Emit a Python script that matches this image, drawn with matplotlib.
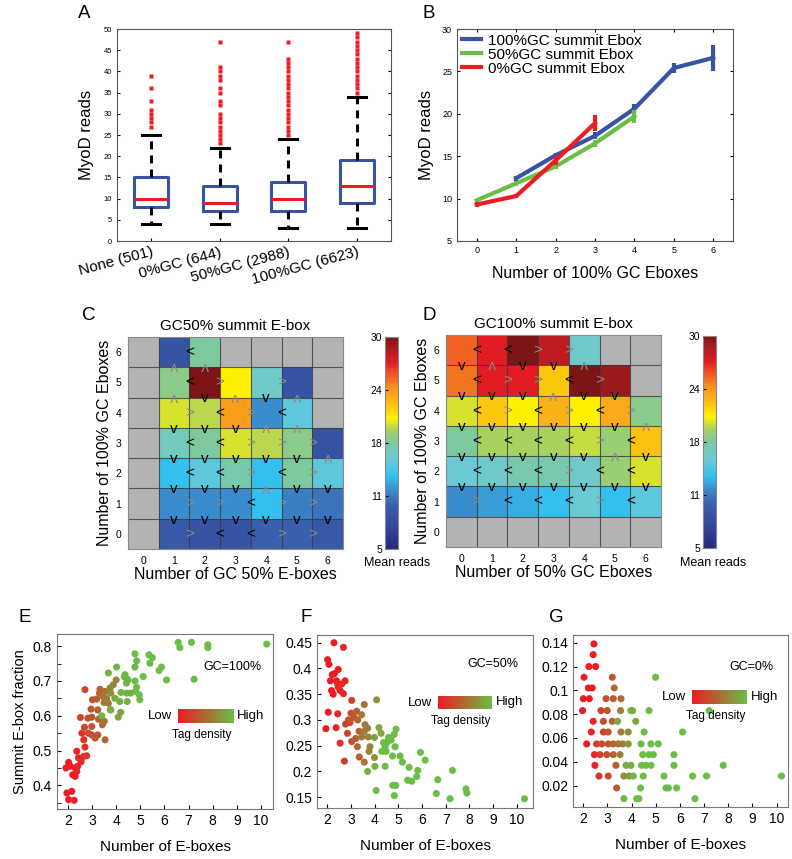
import numpy as np
import matplotlib.pyplot as plt
from matplotlib.colors import LinearSegmentedColormap

plt.rcParams['font.family'] = ['Liberation Sans', 'DejaVu Sans']

# ---------------- data ----------------
# A: MyoD reads by summit E-box class (box summaries)
box_labels = ['None (501)', '0%GC (644)', '50%GC (2988)', '100%GC (6623)']
box_whislo = [4, 4, 3, 3]
box_q1 = [8, 7, 7, 9]
box_med = [10, 9, 10, 13]
box_q3 = [15, 13, 14, 19]
box_whishi = [25, 22, 24, 34]
box_fliers = [
    [27, 28, 29, 30, 31, 33, 36, 39],
    [23, 24, 25, 26, 27, 28, 29, 30, 32, 33, 35, 36, 38, 39, 40, 41, 47],
    [25, 26, 27, 28, 29, 30, 31, 32, 33, 34, 35, 36, 37, 38, 39, 40, 41, 42, 43, 47],
    [35, 36, 37, 38, 39, 40, 41, 42, 43, 44, 45, 46, 47, 48, 49],
]

# B: mean reads vs number of 100% GC E-boxes
gc100_x = [1, 2, 3, 4, 5, 6]
gc100_y = [12.4, 15.1, 17.4, 20.6, 25.4, 26.6]
gc100_err = [0.3, 0.3, 0.4, 0.5, 0.6, 1.5]
gc50_x = [0, 1, 2, 3, 4]
gc50_y = [9.8, 11.8, 13.8, 16.5, 19.7]
gc50_err = [0.2, 0.3, 0.3, 0.4, 0.8]
gc0_x = [0, 1, 2, 3]
gc0_y = [9.3, 10.3, 14.5, 18.9]
gc0_err = [0.3, 0.2, 0.5, 0.9]

nan = np.nan
# C / D: mean reads, rows listed from 6 (top) down to 0
c_vals = [
    [nan, 9.0, 17.5, nan, nan, nan, nan],
    [nan, 18.0, 30.0, 20.5, 16.0, 9.0, nan],
    [nan, 19.8, 19.3, 23.5, 12.0, 15.0, nan],
    [nan, 16.5, 17.5, 19.8, 19.3, 18.0, 9.0],
    [nan, 13.5, 15.0, 17.0, 13.5, 17.5, 15.0],
    [nan, 12.0, 12.0, 12.0, 13.5, 11.5, 11.0],
    [nan, 9.5, 9.0, 9.0, 10.0, 10.0, 9.5],
]
d_vals = [
    [25.3, 27.0, 30.0, 28.0, 16.0, nan, nan],
    [24.8, 27.0, 27.0, 21.8, 30.0, 29.0, nan],
    [19.8, 21.8, 20.5, 22.5, 20.5, 23.0, 18.0],
    [17.5, 19.0, 19.0, 19.0, 19.5, 18.5, 22.0],
    [15.5, 16.0, 17.0, 17.0, 16.0, 18.5, 19.8],
    [12.0, 12.5, 13.0, 13.5, 15.5, 13.5, 15.0],
    [nan, nan, nan, nan, nan, nan, nan],
]
# comparison arrows: rows 6..0, boundaries x=0.5..5.5
c_harrows = ['.<....', '.<>.>.', '.><><.', '.<<>>>', '.<<><>', '.>><>>', '.><<>>']
# boundaries y=5.5..0.5, columns 0..6
c_varrows = ['.^^....', '.^v^v^.', '.vvv^^.', '.vvvvv^', '.vvv^vv', '.vvvvvv']
d_harrows = ['<<>>..', '<>><>.', '<><><>', '<<<<><', '<<<><<', '><<<><', '......']
d_varrows = ['v^vv^..', 'vvv^vv.', 'vvvvvv^', 'vvvvv^v', 'vvvvvvv', '.......']

cbar_ticks = [5, 11.25, 17.5, 23.75, 30]
cbar_labels = ['5', '11', '18', '24', '30']

# E/F/G: (number of E-boxes, summit E-box fraction, tag density 0..1)
e_points = [
    (1.96, 0.378, 0.0), (2.16, 0.383, 0.0), (2.03, 0.359, 0.0), (2.26, 0.357, 0.0),
    (1.92, 0.450, 0.0), (2.03, 0.466, 0.0), (2.10, 0.455, 0.0), (2.20, 0.430, 0.0),
    (2.30, 0.426, 0.0), (2.37, 0.440, 0.05), (2.30, 0.450, 0.05), (2.41, 0.455, 0.05),
    (2.37, 0.498, 0.05), (2.44, 0.479, 0.05), (2.55, 0.468, 0.1), (2.65, 0.483, 0.1),
    (2.78, 0.485, 0.15), (2.71, 0.510, 0.15), (2.66, 0.531, 0.15), (2.58, 0.550, 0.15),
    (2.69, 0.567, 0.25), (2.85, 0.550, 0.3), (2.99, 0.545, 0.3), (2.52, 0.595, 0.25),
    (2.83, 0.593, 0.3), (2.71, 0.675, 0.3), (2.99, 0.569, 0.35), (3.13, 0.536, 0.35),
    (3.24, 0.545, 0.35), (2.96, 0.619, 0.35), (2.99, 0.596, 0.35), (3.02, 0.646, 0.35),
    (3.20, 0.648, 0.4), (3.24, 0.617, 0.4), (3.27, 0.590, 0.45), (3.33, 0.676, 0.4),
    (3.31, 0.665, 0.45), (3.43, 0.574, 0.5), (3.54, 0.531, 0.45), (3.51, 0.584, 0.55),
    (3.47, 0.655, 0.55), (3.54, 0.670, 0.55), (3.60, 0.650, 0.6), (3.50, 0.638, 0.6),
    (3.68, 0.636, 0.6), (3.76, 0.617, 0.65), (3.75, 0.680, 0.65), (3.88, 0.689, 0.65),
    (4.00, 0.703, 0.65), (3.78, 0.665, 0.7), (3.40, 0.600, 0.95), (4.02, 0.740, 0.95),
    (3.68, 0.723, 0.9), (4.37, 0.718, 0.95), (4.46, 0.705, 0.95), (4.78, 0.700, 1.0),
    (4.85, 0.682, 1.0), (4.81, 0.670, 1.0), (4.96, 0.660, 1.0), (4.98, 0.646, 1.0),
    (5.12, 0.713, 1.0), (4.43, 0.665, 0.95), (4.20, 0.667, 0.95), (4.60, 0.665, 0.95),
    (3.95, 0.650, 0.9), (4.15, 0.641, 0.9), (4.46, 0.641, 0.95), (4.19, 0.610, 0.85),
    (4.09, 0.596, 0.85), (3.78, 0.617, 0.9), (4.78, 0.778, 1.0), (4.85, 0.758, 1.0),
    (4.78, 0.740, 1.0), (5.36, 0.775, 1.0), (5.50, 0.767, 1.0), (5.40, 0.751, 1.0),
    (5.88, 0.740, 1.0), (5.78, 0.730, 1.0), (6.09, 0.703, 1.0), (6.57, 0.811, 1.0),
    (6.64, 0.796, 1.0), (7.12, 0.811, 1.0), (7.23, 0.705, 1.0), (7.80, 0.804, 1.0),
    (7.80, 0.796, 1.0), (10.24, 0.806, 1.0), (4.34, 0.712, 0.95), (4.49, 0.703, 0.95),
    (4.43, 0.694, 0.95),
]
f_points = [
    (2.28, 0.450, 0.0), (2.68, 0.441, 0.05), (2.01, 0.417, 0.0), (2.07, 0.408, 0.0),
    (2.30, 0.390, 0.0), (2.21, 0.388, 0.0), (2.46, 0.398, 0.0), (2.13, 0.376, 0.0),
    (2.39, 0.376, 0.0), (2.44, 0.370, 0.05), (2.75, 0.376, 0.05), (2.61, 0.370, 0.05),
    (2.18, 0.357, 0.0), (2.25, 0.350, 0.0), (2.54, 0.357, 0.05), (2.68, 0.351, 0.05),
    (2.46, 0.364, 0.05), (2.04, 0.315, 0.0), (2.44, 0.312, 0.05), (1.94, 0.283, 0.0),
    (2.37, 0.285, 0.05), (2.54, 0.255, 0.1), (3.03, 0.338, 0.25), (3.00, 0.313, 0.3),
    (2.89, 0.300, 0.3), (2.77, 0.292, 0.25), (2.96, 0.295, 0.3), (2.85, 0.274, 0.25),
    (3.03, 0.258, 0.3), (2.72, 0.220, 0.2), (3.24, 0.317, 0.4), (3.14, 0.305, 0.4),
    (3.28, 0.300, 0.45), (3.34, 0.278, 0.45), (3.20, 0.264, 0.4), (3.27, 0.248, 0.45),
    (3.35, 0.228, 0.45), (3.56, 0.330, 0.55), (3.45, 0.310, 0.55), (3.59, 0.291, 0.6),
    (3.70, 0.284, 0.6), (3.56, 0.278, 0.6), (3.73, 0.267, 0.65), (3.45, 0.267, 0.6),
    (3.80, 0.248, 0.65), (3.56, 0.218, 0.55), (3.76, 0.239, 0.65), (3.99, 0.227, 0.7),
    (4.08, 0.339, 0.7), (3.99, 0.266, 0.8), (4.18, 0.285, 0.85), (4.27, 0.274, 0.85),
    (4.90, 0.282, 1.0), (4.82, 0.272, 1.0), (4.58, 0.266, 1.0), (4.51, 0.256, 1.0),
    (4.37, 0.256, 1.0), (4.44, 0.248, 1.0), (4.30, 0.239, 1.0), (4.48, 0.239, 1.0),
    (4.86, 0.248, 1.0), (4.69, 0.261, 1.0), (4.75, 0.230, 1.0), (5.07, 0.230, 1.0),
    (5.17, 0.218, 1.0), (5.93, 0.237, 1.0), (6.13, 0.222, 1.0), (4.01, 0.210, 0.95),
    (4.44, 0.210, 1.0), (3.70, 0.200, 0.95), (5.45, 0.208, 1.0), (5.82, 0.202, 1.0),
    (5.77, 0.190, 1.0), (5.39, 0.183, 1.0), (5.56, 0.181, 1.0), (4.76, 0.173, 1.0),
    (4.89, 0.173, 1.0), (4.06, 0.163, 1.0), (4.83, 0.153, 1.0), (6.60, 0.157, 1.0),
    (6.66, 0.184, 1.0), (7.18, 0.147, 1.0), (7.28, 0.202, 1.0), (7.85, 0.166, 1.0),
    (7.89, 0.158, 1.0), (10.32, 0.147, 1.0),
]
g_points = [
    (2.44, 0.139, 0.0), (2.41, 0.130, 0.0), (2.23, 0.120, 0.0), (2.51, 0.120, 0.0),
    (2.03, 0.111, 0.0), (3.20, 0.111, 0.4), (4.99, 0.111, 1.0), (2.21, 0.102, 0.0),
    (2.37, 0.102, 0.0), (3.28, 0.102, 0.5), (2.00, 0.093, 0.0), (2.25, 0.093, 0.0),
    (2.94, 0.093, 0.35), (3.24, 0.093, 0.4), (3.56, 0.093, 0.5),
    (1.97, 0.083, 0.0), (2.73, 0.083, 0.25), (2.99, 0.083, 0.35), (3.54, 0.083, 0.6),
    (3.97, 0.083, 0.95), (4.04, 0.083, 0.95), (4.72, 0.083, 1.0), (7.21, 0.083, 1.0),
    (2.41, 0.074, 0.05), (2.83, 0.074, 0.3), (3.20, 0.074, 0.4), (3.42, 0.074, 0.85),
    (4.17, 0.074, 0.85),
    (2.33, 0.065, 0.05), (2.83, 0.065, 0.25), (3.03, 0.065, 0.35), (3.56, 0.065, 0.6),
    (3.86, 0.065, 0.7), (4.52, 0.065, 1.0), (6.11, 0.065, 1.0),
    (2.14, 0.055, 0.0), (2.55, 0.055, 0.2), (2.76, 0.055, 0.3), (3.03, 0.055, 0.35),
    (3.24, 0.055, 0.45), (3.45, 0.055, 0.55), (3.63, 0.055, 0.6), (3.86, 0.055, 0.75),
    (4.39, 0.055, 1.0), (4.80, 0.055, 1.0), (5.10, 0.055, 1.0),
    (2.46, 0.046, 0.05), (2.69, 0.046, 0.25), (2.97, 0.046, 0.3), (3.24, 0.046, 0.45),
    (3.52, 0.046, 0.6), (4.46, 0.046, 1.0), (4.72, 0.046, 1.0), (4.90, 0.046, 1.0),
    (5.75, 0.046, 1.0),
    (2.48, 0.037, 0.05), (3.35, 0.037, 0.4), (3.77, 0.037, 0.9), (3.97, 0.037, 0.9),
    (4.41, 0.037, 1.0), (4.59, 0.037, 1.0), (4.80, 0.037, 1.0), (5.75, 0.037, 1.0),
    (7.79, 0.037, 1.0),
    (2.65, 0.028, 0.15), (3.03, 0.028, 0.3), (3.68, 0.028, 0.7), (3.90, 0.028, 0.75),
    (4.07, 0.028, 0.95), (4.48, 0.028, 1.0), (5.34, 0.028, 1.0), (6.52, 0.028, 1.0),
    (7.10, 0.028, 1.0), (10.20, 0.028, 1.0),
    (3.38, 0.018, 0.35), (4.37, 0.018, 1.0), (5.42, 0.018, 1.0), (5.52, 0.018, 1.0),
    (5.86, 0.018, 1.0),
    (3.68, 0.009, 0.95), (4.21, 0.009, 1.0), (4.30, 0.009, 1.0), (6.62, 0.009, 1.0),
]

# ---------------- layout helpers ----------------
W, H = 792, 859
fig = plt.figure(figsize=(W / 100, H / 100), dpi=100)


def rect(l, t, r, b):
    return [l / W, 1 - b / H, (r - l) / W, (b - t) / H]


def ftext(x, y, s, **kw):
    fig.text(x / W, 1 - y / H, s, **kw)


blue, green, red = '#3953a4', '#6abd45', '#ed1c24'

# ---------------- A ----------------
ax = fig.add_axes(rect(117, 29, 391, 241))
stats = []
for i in range(4):
    stats.append(dict(whislo=box_whislo[i], q1=box_q1[i], med=box_med[i],
                      q3=box_q3[i], whishi=box_whishi[i], fliers=box_fliers[i]))
ax.bxp(stats, positions=[1, 2, 3, 4], widths=0.5, capwidths=0.27,
       boxprops=dict(color=blue, lw=2.2),
       medianprops=dict(color=red, lw=2.2),
       whiskerprops=dict(color='k', lw=2.2, linestyle=(0, (2.6, 2))),
       capprops=dict(color='k', lw=2.2),
       flierprops=dict(marker='s', markersize=2.6, markerfacecolor=red,
                       markeredgecolor='none'))
ax.set_xlim(0.5, 4.5)
ax.set_ylim(0, 50)
ax.set_yticks(range(0, 51, 5))
ax.set_xticks([1, 2, 3, 4])
ax.set_xticklabels(box_labels, rotation=15, ha='right', rotation_mode='anchor', fontsize=11)
ax.tick_params(axis='y', direction='in', right=True, labelsize=5.5, length=2.5)
ax.tick_params(axis='x', direction='in', length=2.5, pad=3)
ax.set_ylabel('MyoD reads', fontsize=12, labelpad=7)
for s in ax.spines.values():
    s.set_color('#555555')

# ---------------- B ----------------
ax = fig.add_axes(rect(457, 29, 733, 241))
for xs, ys, es, col, lab in [(gc100_x, gc100_y, gc100_err, blue, '100%GC summit Ebox'),
                             (gc50_x, gc50_y, gc50_err, green, '50%GC summit Ebox'),
                             (gc0_x, gc0_y, gc0_err, red, '0%GC summit Ebox')]:
    ax.plot(xs, ys, color=col, lw=3, label=lab)
    ax.errorbar(xs, ys, yerr=es, fmt='none', ecolor=col, elinewidth=3, capsize=0)
ax.set_xlim(-0.5, 6.5)
ax.set_ylim(5, 30)
ax.set_xticks(range(7))
ax.set_yticks(range(5, 31, 5))
ax.tick_params(direction='in', top=True, right=True, labelsize=6.5, length=2.5)
ax.set_xlabel('Number of 100% GC Eboxes', fontsize=11.5, labelpad=8)
ax.set_ylabel('MyoD reads', fontsize=12, labelpad=6)
for s in ax.spines.values():
    s.set_color('#555555')
ax.legend(loc='upper left', frameon=False, fontsize=11, handlelength=1.3,
          handletextpad=0.4, labelspacing=0.0, borderaxespad=0.1, borderpad=0.2)

# ---------------- C / D ----------------
heat_pos = [0.0, 0.10, 0.20, 0.27, 0.34, 0.42, 0.50, 0.56, 0.62, 0.70, 0.76, 0.82, 0.88, 0.94, 1.0]
heat_cols = ['#26297a', '#33449a', '#3a5fac', '#3c86c8', '#33c0ef', '#6ccad6', '#7cc9a0',
             '#a8d162', '#fff200', '#fbb517', '#f7941d', '#f15a24', '#e31e24', '#b01c20', '#7d1416']
cmap_heat = LinearSegmentedColormap.from_list('heat', list(zip(heat_pos, heat_cols)))
cmap_heat.set_bad('#b3b3b3')


def heatmap(r_ax, r_cb, vals, harrows, varrows, title, xlabel, ylabel, mean_xy):
    ax = fig.add_axes(r_ax)
    arr = np.ma.masked_invalid(np.array(vals, dtype=float))
    im = ax.imshow(arr, cmap=cmap_heat, vmin=5, vmax=30, origin='upper',
                   extent=(-0.5, 6.5, -0.5, 6.5), aspect='auto', interpolation='nearest')
    for k in range(6):
        ax.axvline(k + 0.5, color='#3a3a3a', lw=0.8, alpha=0.8)
        ax.axhline(k + 0.5, color='#3a3a3a', lw=0.8, alpha=0.8)
    for row, s in zip(range(6, -1, -1), harrows):
        for j, ch in enumerate(s):
            if ch == '.':
                continue
            col = 'black' if ch == '<' else '#8a8a8a'
            ax.text(j + 0.5, row, ch, color=col, ha='center', va='center', fontsize=11)
    for yb, s in zip([5.5, 4.5, 3.5, 2.5, 1.5, 0.5], varrows):
        for j, ch in enumerate(s):
            if ch == 'v':
                ax.text(j, yb - 0.03, 'v', color='black', ha='center', va='center', fontsize=11)
            elif ch == '^':
                ax.text(j, yb + 0.03, 'v', color='#8a8a8a', ha='center', va='center',
                        fontsize=11, rotation=180)
    ax.set_xlim(-0.5, 6.5)
    ax.set_ylim(-0.5, 6.5)
    ax.set_xticks(range(7))
    ax.set_yticks(range(7))
    ax.tick_params(length=0, labelsize=7.5, pad=5)
    for s in ax.spines.values():
        s.set_color('#888888')
    ax.set_title(title, fontsize=11, pad=5)
    ax.set_xlabel(xlabel, fontsize=11.5, labelpad=1)
    ax.set_ylabel(ylabel, fontsize=11.5, labelpad=2)
    cax = fig.add_axes(r_cb)
    cb = fig.colorbar(im, cax=cax, ticks=cbar_ticks)
    cb.set_ticklabels(cbar_labels)
    cb.ax.yaxis.set_ticks_position('left')
    cb.ax.tick_params(direction='in', length=2, labelsize=7.5, pad=2)
    cb.outline.set_edgecolor('#888888')
    ftext(mean_xy[0], mean_xy[1], 'Mean reads', fontsize=9, ha='center', va='center')


heatmap(rect(128, 337, 343, 549), rect(385, 337, 398, 549), c_vals, c_harrows, c_varrows,
        'GC50% summit E-box', 'Number of GC 50% E-boxes', 'Number of 100% GC Eboxes', (397, 563))
heatmap(rect(446, 335, 661, 547), rect(703, 336, 716, 548), d_vals, d_harrows, d_varrows,
        'GC100% summit E-box', 'Number of 50% GC Eboxes', 'Number of 100% GC Eboxes', (713, 563))

# ---------------- E / F / G ----------------
cmap_tag = LinearSegmentedColormap.from_list('tag', [red, green])


def scatter_panel(r_ax, pts, xlim, ylim, yticks, ylabels, yminor, gc_txt, leg):
    ax = fig.add_axes(r_ax)
    p = np.array(pts)
    ax.scatter(p[:, 0], p[:, 1], c=p[:, 2], cmap=cmap_tag, vmin=0, vmax=1, s=26,
               edgecolors='none')
    ax.set_xlim(*xlim)
    ax.set_ylim(*ylim)
    ax.set_xticks(range(2, 11))
    ax.set_yticks(yticks)
    ax.set_yticklabels(ylabels)
    if yminor is not None:
        ax.set_yticks(yminor, minor=True)
    ax.tick_params(which='both', direction='in', length=3, labelsize=10)
    for s in ax.spines.values():
        s.set_color('#777777')
    ax.set_xlabel('Number of E-boxes', fontsize=11, labelpad=9)
    gx, gy, bl, bt, br, bb = leg
    ftext(gx, gy, gc_txt, fontsize=9, ha='center', va='center')
    gax = fig.add_axes(rect(bl, bt, br, bb))
    gax.imshow(np.linspace(0, 1, 100)[None, :], cmap=cmap_tag, aspect='auto')
    gax.set_axis_off()
    ym = (bt + bb) / 2
    ftext(bl - 6, ym, 'Low', fontsize=9.5, ha='right', va='center')
    ftext(br + 4, ym, 'High', fontsize=9.5, ha='left', va='center')
    ftext((bl + br) / 2 - 4, bb + 12, 'Tag density', fontsize=8.5, ha='center', va='center')
    return ax


ax = scatter_panel(rect(57, 634, 273, 809), e_points, (1.55, 10.5), (0.332, 0.835),
                   [0.4, 0.5, 0.6, 0.7, 0.8], ['0.4', '0.5', '0.6', '0.7', '0.8'],
                   [0.35, 0.45, 0.55, 0.65, 0.75], 'GC=100%', (232, 667, 178, 709, 233, 723))
ax.set_ylabel('Summit E-box fraction', fontsize=10.5, labelpad=4)
scatter_panel(rect(317, 635, 533, 808), f_points, (1.565, 10.68), (0.129, 0.465),
              [0.15, 0.2, 0.25, 0.3, 0.35, 0.4, 0.45],
              ['0.15', '0.2', '0.25', '0.3', '0.35', '0.4', '0.45'], None,
              'GC=50%', (493, 664, 438, 696, 492, 709))
scatter_panel(rect(573, 635, 788, 807), g_points, (1.574, 10.47), (0.002, 0.1465),
              [0.02, 0.04, 0.06, 0.08, 0.1, 0.12, 0.14],
              ['0.02', '0.04', '0.06', '0.08', '0.1', '0.12', '0.14'], None,
              'GC=0%', (751, 667, 692, 690, 747, 704))

# panel letters
for letter, x, y in [('A', 78, 14), ('B', 422, 14), ('C', 82, 315), ('D', 422, 315),
                     ('E', 18, 617), ('F', 300, 618), ('G', 549, 617)]:
    ftext(x, y, letter, fontsize=13.5, ha='left', va='center')

fig.savefig('out.png', dpi=100)
